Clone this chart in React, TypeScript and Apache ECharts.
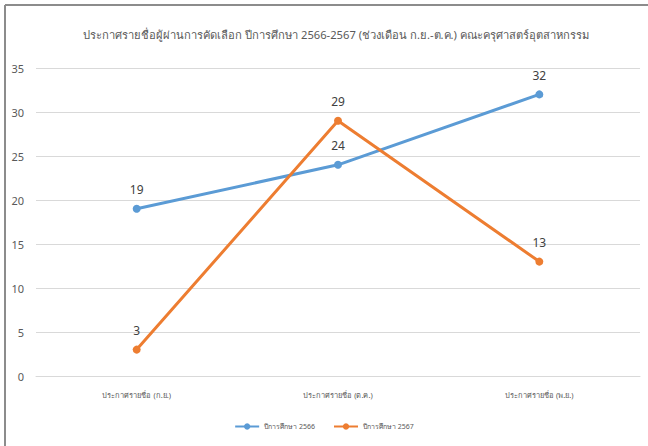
import React, { useEffect, useRef } from "react";
import * as echarts from "echarts";

const categories = ["ประกาศรายชื่อ (ก.ย.)", "ประกาศรายชื่อ (ต.ค.)", "ประกาศรายชื่อ (พ.ย.)"];
const seriesNames = ["ปีการศึกษา 2566", "ปีการศึกษา 2567"];
const values2566 = [19, 24, 32];
const values2567 = [3, 29, 13];
const titleText = "ประกาศรายชื่อผู้ผ่านการคัดเลือก ปีการศึกษา 2566-2567 (ช่วงเดือน ก.ย.-ต.ค.) คณะครุศาสตร์อุตสาหกรรม";

const FONT = "'Noto Sans', 'Open Sans', sans-serif";

export default function App() {
  const ref = useRef<HTMLDivElement>(null);
  useEffect(() => {
    if (!ref.current) return;
    const chart = echarts.init(ref.current, undefined, { renderer: "svg" });
    const mkSeries = (name: string, data: number[], color: string) => ({
      name,
      type: "line",
      data,
      symbol: "circle",
      symbolSize: 8,
      itemStyle: { color },
      lineStyle: { color, width: 3 },
      label: {
        show: true,
        position: "top",
        distance: 9,
        color: "#404040",
        fontSize: 12,
        fontFamily: FONT,
      },
    });
    chart.setOption({
      animation: false,
      backgroundColor: "#ffffff",
      title: {
        text: titleText,
        left: 331,
        textAlign: "center",
        top: 24,
        textStyle: { color: "#595959", fontSize: 11.2, fontWeight: "normal", fontFamily: FONT },
      },
      grid: { left: 36, right: 8, top: 68, bottom: 70 },
      legend: {
        bottom: 11,
        left: "center",
        itemWidth: 24,
        itemHeight: 8,
        itemGap: 18,
        textStyle: { color: "#595959", fontSize: 7, fontFamily: FONT },
        data: seriesNames,
      },
      xAxis: {
        type: "category",
        data: categories,
        boundaryGap: true,
        axisLine: { show: true, lineStyle: { color: "#d9d9d9", width: 1 } },
        axisTick: { show: false },
        axisLabel: { color: "#595959", fontSize: 7.5, margin: 15, fontFamily: FONT },
      },
      yAxis: {
        type: "value",
        min: 0,
        max: 35,
        interval: 5,
        axisLine: { show: false },
        axisTick: { show: false },
        axisLabel: { color: "#595959", fontSize: 11, margin: 12, fontFamily: FONT },
        splitLine: { lineStyle: { color: "#d9d9d9", width: 1 } },
      },
      graphic: [
        { type: "line", shape: { x1: 5, y1: 5, x2: 648, y2: 5 }, style: { stroke: "#8c8c8c", lineWidth: 2 } },
        { type: "line", shape: { x1: 5, y1: 5, x2: 5, y2: 446 }, style: { stroke: "#8c8c8c", lineWidth: 2 } },
      ],
      series: [
        mkSeries(seriesNames[0], values2566, "#5B9BD5"),
        mkSeries(seriesNames[1], values2567, "#ED7D31"),
      ],
    });
    return () => chart.dispose();
  }, []);
  return <div ref={ref} style={{ width: 648, height: 446, position: "absolute", left: 0, top: 0 }} />;
}
